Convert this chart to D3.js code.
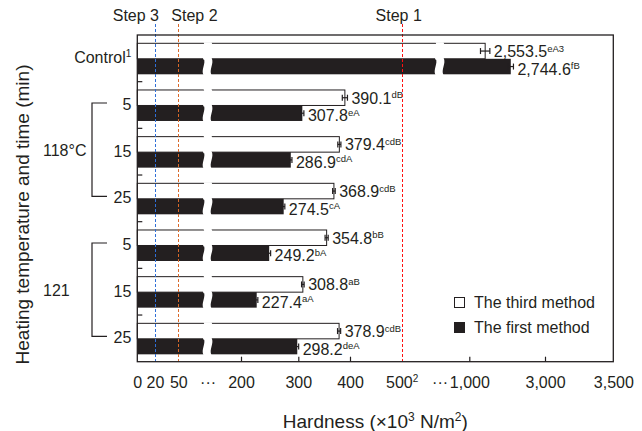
<!DOCTYPE html>
<html>
<head>
<meta charset="utf-8">
<script src="https://cdn.jsdelivr.net/npm/d3@7"></script>
<style>
  body { margin: 0; background: #fff; }
  text { font-family: Arial, "Liberation Sans", sans-serif; fill: #231f20; }
</style>
</head>
<body>
<svg id="chart" width="642" height="431"></svg>
<script>
// data
var rows = ["Control", "118-5", "118-15", "118-25", "121-5", "121-15", "121-25"];
var rowLabels = ["Control", "5", "15", "25", "5", "15", "25"];
var thirdMethod = [2553.5, 390.1, 379.4, 368.9, 354.8, 308.8, 378.9];
var firstMethod = [2744.6, 307.8, 286.9, 274.5, 249.2, 227.4, 298.2];
var thirdSd = [35, 5, 3, 2.5, 3, 2.5, 3];
var firstSd = [20, 3, 2, 2, 2.5, 2, 2.5];
var thirdLetters = ["eA3", "dB", "cdB", "cdB", "bB", "aB", "cdB"];
var firstLetters = ["fB", "eA", "cdA", "cA", "bA", "aA", "deA"];
var groups = [["118°C", ["118-5", "118-15", "118-25"]], ["121", ["121-5", "121-15", "121-25"]]];
var steps = [["Step 3", 20], ["Step 2", 50], ["Step 1", 500]];
var tickValues = [0, 20, 50, 120, 200, 300, 400, 500, 780, 1000, 3000, 3500];
var tickText = ["0", "20", "50", "···", "200", "300", "400", "500", "···", "1,000", "3,000", "3,500"];
var tickMarks = [200, 300, 400, 1000, 3000];
var axisBreaks = [120, 780];

var ink = "#231f20";
var L = 137.3, R = 613.3, T = 35, B = 361.7;

// broken axis: piecewise linear
var x = d3.scaleLinear()
  .domain([0, 20, 50, 200, 300, 400, 500, 1000, 2500, 3000, 3500])
  .range([L, 155, 178.3, 241, 298.3, 350, 401.7, 469.3, 478, 545, R]);
var y = d3.scaleBand().domain(rows).range([T, B]);
var padTop = 8.3, barH = 15.5;

var svg = d3.select("#chart");

var data = rows.map(function(r, i) {
  return [
    {row: r, v: thirdMethod[i], sd: thirdSd[i], sup: thirdLetters[i], k: 0},
    {row: r, v: firstMethod[i], sd: firstSd[i], sup: firstLetters[i], k: 1}
  ];
}).flat();

function barTop(d) { return y(d.row) + padTop + d.k * barH; }
function snap(v) { return Math.round(v) + 0.5; }

svg.selectAll("rect.bar").data(data).enter().append("rect")
  .attr("class", "bar")
  .attr("x", L).attr("y", barTop)
  .attr("width", function(d) { return x(d.v) - L; })
  .attr("height", barH)
  .attr("fill", function(d) { return d.k ? ink : "#fff"; })
  .attr("stroke", function(d) { return d.k ? "none" : ink; })
  .attr("stroke-width", 1);

// wavy gaps where bars cross the axis breaks
var gaps = [];
data.forEach(function(d) {
  axisBreaks.forEach(function(b) { if (d.v > b) gaps.push({d: d, cx: x(b)}); });
});
svg.selectAll("path.gap").data(gaps).enter().append("path")
  .attr("class", "gap")
  .attr("fill", "#fff")
  .attr("d", function(g) {
    var y0 = barTop(g.d) - 1, y1 = y0 + barH + 2, h = y1 - y0, c = g.cx;
    return "M" + (c - 4) + "," + y0 +
      " C" + (c - 1) + "," + (y0 + h / 3) + " " + (c - 7) + "," + (y0 + 2 * h / 3) + " " + (c - 4) + "," + y1 +
      " L" + (c + 4) + "," + y1 +
      " C" + (c + 1) + "," + (y0 + 2 * h / 3) + " " + (c + 7) + "," + (y0 + h / 3) + " " + (c + 4) + "," + y0 + "Z";
  });

// error bars
var eb = svg.selectAll("g.err").data(data).enter().append("g").attr("class", "err")
  .attr("stroke", ink).attr("stroke-width", 1.2);
eb.append("line")
  .attr("x1", function(d) { return x(d.v - d.sd); })
  .attr("x2", function(d) { return x(d.v + d.sd); })
  .attr("y1", function(d) { return barTop(d) + barH / 2; })
  .attr("y2", function(d) { return barTop(d) + barH / 2; });
[-1, 1].forEach(function(s) {
  eb.append("line")
    .attr("x1", function(d) { return x(d.v + s * d.sd); })
    .attr("x2", function(d) { return x(d.v + s * d.sd); })
    .attr("y1", function(d) { return barTop(d) + barH / 2 - 3; })
    .attr("y2", function(d) { return barTop(d) + barH / 2 + 3; });
});

// value labels
var fmt = d3.format(",.1f");
var lab = svg.selectAll("text.val").data(data).enter().append("text")
  .attr("class", "val")
  .attr("x", function(d) { return x(d.v + d.sd) + 4; })
  .attr("y", function(d) { return barTop(d) + barH / 2 + (d.k ? 8 : 6); })
  .style("font-size", "16px");
lab.append("tspan").text(function(d) { return fmt(d.v); });
lab.append("tspan").attr("dy", -5.5).style("font-size", "9.5px").text(function(d) { return d.sup; });

// step lines
var stepColor = {"Step 3": "#2f6fd6", "Step 2": "#d9692a", "Step 1": "#ff1010"};
var stepAnchor = {"Step 3": ["end", 4], "Step 2": ["start", -7], "Step 1": ["middle", -3]};
svg.selectAll("line.step").data(steps).enter().append("line")
  .attr("x1", function(d) { return snap(x(d[1])); }).attr("x2", function(d) { return snap(x(d[1])); })
  .attr("y1", 24).attr("y2", B)
  .attr("stroke", function(d) { return stepColor[d[0]]; })
  .attr("stroke-width", 1).attr("stroke-dasharray", "3,2");
svg.selectAll("text.step").data(steps).enter().append("text")
  .attr("x", function(d) { return x(d[1]) + stepAnchor[d[0]][1]; })
  .attr("y", 20.5)
  .attr("text-anchor", function(d) { return stepAnchor[d[0]][0]; })
  .style("font-size", "16px")
  .text(function(d) { return d[0]; });

// frame
svg.append("rect").attr("x", L).attr("y", T).attr("width", R - L).attr("height", B - T)
  .attr("fill", "none").attr("stroke", ink).attr("stroke-width", 1.3);

// x axis
var xa = svg.append("g").attr("transform", "translate(0," + B + ")")
  .call(d3.axisBottom(x).tickValues(tickValues)
    .tickFormat(function(v) { return tickText[tickValues.indexOf(v)]; })
    .tickSizeInner(-5).tickSizeOuter(0).tickPadding(14.5));
xa.select(".domain").remove();
xa.selectAll(".tick line").attr("stroke", ink).attr("stroke-width", 1.2)
  .filter(function(v) { return tickMarks.indexOf(v) < 0; }).remove();
xa.selectAll(".tick text").attr("fill", ink)
  .style("font-family", "Arial, 'Liberation Sans', sans-serif").style("font-size", "16px");
xa.selectAll(".tick text").filter(function(v) { return v === 500; })
  .append("tspan").attr("dy", -6).style("font-size", "10px").text("2");

// y axis
var ya = svg.append("g").attr("transform", "translate(" + L + ",0)")
  .call(d3.axisLeft(y).tickSize(0).tickPadding(6)
    .tickFormat(function(r) { return rowLabels[rows.indexOf(r)]; }));
ya.select(".domain").remove();
ya.selectAll(".tick text").attr("fill", ink)
  .style("font-family", "Arial, 'Liberation Sans', sans-serif").style("font-size", "16px");
ya.selectAll(".tick text").filter(function(r) { return r === "Control"; })
  .append("tspan").attr("dy", -6).style("font-size", "10px").text("1");
svg.selectAll("line.ytick").data(rows.slice(1)).enter().append("line")
  .attr("x1", L).attr("x2", L + 5)
  .attr("y1", function(r) { return y(r); }).attr("y2", function(r) { return y(r); })
  .attr("stroke", ink).attr("stroke-width", 1.2);

// group brackets
groups.forEach(function(g) {
  var r = g[1], hb = y.bandwidth() / 2;
  var y0 = y(r[0]) + hb - 2, y1 = y(r[r.length - 1]) + hb - 2;
  svg.append("path").attr("fill", "none").attr("stroke", ink).attr("stroke-width", 1.2)
    .attr("d", "M107," + y0 + "H92V" + y1 + "H107");
  svg.append("text").attr("x", 43).attr("y", y(r[1]) + hb + 4)
    .style("font-size", "16px").text(g[0]);
});

// axis titles
var xt = svg.append("text").attr("x", (L + R) / 2).attr("y", 428)
  .attr("text-anchor", "middle").style("font-size", "19px");
xt.append("tspan").text("Hardness (×10");
xt.append("tspan").attr("dy", -7).style("font-size", "12px").text("3");
xt.append("tspan").attr("dy", 7).text(" N/m");
xt.append("tspan").attr("dy", -7).style("font-size", "12px").text("2");
xt.append("tspan").attr("dy", 7).text(")");

svg.append("text").attr("transform", "translate(29,214.5) rotate(-90)")
  .attr("text-anchor", "middle").style("font-size", "19px")
  .text("Heating temperature and time (min)");

// legend
var legend = [["The third method", "#fff"], ["The first method", ink]];
var lg = svg.selectAll("g.legend").data(legend).enter().append("g")
  .attr("transform", function(d, i) { return "translate(454.5," + (297.5 + i * 25) + ")"; });
lg.append("rect").attr("width", 10).attr("height", 10)
  .attr("fill", function(d) { return d[1]; }).attr("stroke", ink).attr("stroke-width", 1);
lg.append("text").attr("x", 19.5).attr("y", 10).style("font-size", "16px")
  .text(function(d) { return d[0]; });
</script>
</body>
</html>
